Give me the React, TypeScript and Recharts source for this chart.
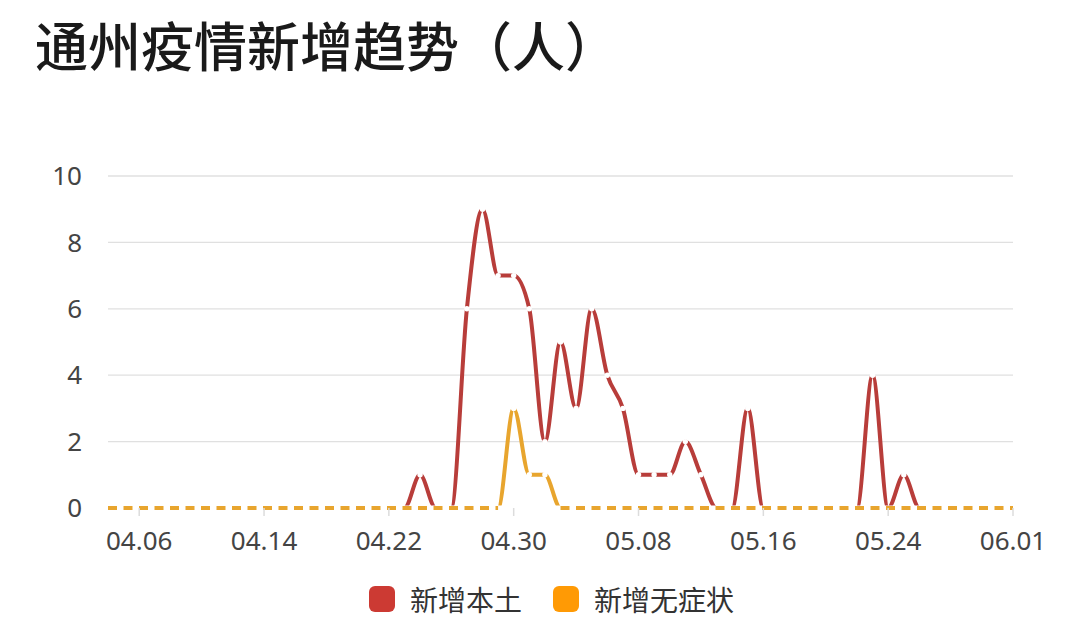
import { LineChart, Line, XAxis, YAxis, CartesianGrid } from "recharts";

// 日期（类目轴）
const dates = [
  "04.04", "04.05", "04.06", "04.07", "04.08", "04.09", "04.10", "04.11", "04.12", "04.13",
  "04.14", "04.15", "04.16", "04.17", "04.18", "04.19", "04.20", "04.21", "04.22", "04.23",
  "04.24", "04.25", "04.26", "04.27", "04.28", "04.29", "04.30", "05.01", "05.02", "05.03",
  "05.04", "05.05", "05.06", "05.07", "05.08", "05.09", "05.10", "05.11", "05.12", "05.13",
  "05.14", "05.15", "05.16", "05.17", "05.18", "05.19", "05.20", "05.21", "05.22", "05.23",
  "05.24", "05.25", "05.26", "05.27", "05.28", "05.29", "05.30", "05.31", "06.01",
];

// 新增本土
const localCases = [
  0, 0, 0, 0, 0, 0, 0, 0, 0, 0,
  0, 0, 0, 0, 0, 0, 0, 0, 0, 0,
  1, 0, 0, 6, 9, 7, 7, 6, 2, 5,
  3, 6, 4, 3, 1, 1, 1, 2, 1, 0,
  0, 3, 0, 0, 0, 0, 0, 0, 0, 4,
  0, 1, 0, 0, 0, 0, 0, 0, 0,
];

// 新增无症状
const asymptomatic = [
  0, 0, 0, 0, 0, 0, 0, 0, 0, 0,
  0, 0, 0, 0, 0, 0, 0, 0, 0, 0,
  0, 0, 0, 0, 0, 0, 3, 1, 1, 0,
  0, 0, 0, 0, 0, 0, 0, 0, 0, 0,
  0, 0, 0, 0, 0, 0, 0, 0, 0, 0,
  0, 0, 0, 0, 0, 0, 0, 0, 0,
];

const xTicks = ["04.06", "04.14", "04.22", "04.30", "05.08", "05.16", "05.24", "06.01"];
const yTicks = [0, 2, 4, 6, 8, 10];
const seriesNames = ["新增本土", "新增无症状"];

const RED_LINE = "#b83d3a";
const RED_ICON = "#cc3a33";
const ORANGE_LINE = "#e8a52e";
const ORANGE_ICON = "#ff9a05";

const FONT = '"Noto Sans", "Noto Sans CJK SC", sans-serif';
const CJK = '"Noto Sans CJK SC", "Noto Sans", sans-serif';

// zero-to-zero stretches of the asymptomatic series are drawn dashed
const isFlatZero = (arr: number[], i: number) =>
  arr[i] === 0 && (arr[i - 1] === 0 || arr[i + 1] === 0);

const data = dates.map((date, i) => ({
  date,
  local: localCases[i],
  asym: asymptomatic[i],
  asymZero: isFlatZero(asymptomatic, i) ? 0 : null,
}));

const gapDot = (key: string) => (props: any) => {
  const { cx, cy, index, payload } = props;
  if (!payload || !payload[key]) return <g key={`d-${key}-${index}`} />;
  return <circle key={`d-${key}-${index}`} cx={cx} cy={cy} r={2.7} fill="#fff" />;
};

const tickStyle = { fontSize: 26, fill: "#444", fontFamily: FONT };

export default function App() {
  const legendItems = [
    { name: seriesNames[0], color: RED_ICON },
    { name: seriesNames[1], color: ORANGE_ICON },
  ];

  return (
    <div
      style={{
        position: "absolute",
        left: 0,
        top: 0,
        width: 1080,
        height: 620,
        background: "#fff",
        overflow: "hidden",
      }}
    >
      <div
        style={{
          position: "absolute",
          left: 35,
          top: 12,
          fontSize: 53,
          lineHeight: "64px",
          fontWeight: 500,
          color: "#1a1a1a",
          fontFamily: CJK,
          whiteSpace: "nowrap",
        }}
      >
        通州疫情新增趋势（人）
      </div>

      <LineChart
        width={1080}
        height={620}
        data={data}
        margin={{ top: 176, right: 67, bottom: 82, left: 0 }}
      >
        <CartesianGrid vertical={false} stroke="#e0e0e0" strokeWidth={1.3} />
        <XAxis
          dataKey="date"
          ticks={xTicks}
          interval={0}
          axisLine={false}
          tickLine={{ stroke: "#dcdcdc", strokeWidth: 1.5 }}
          tickSize={8}
          tickMargin={16}
          tick={tickStyle}
          height={30}
        />
        <YAxis
          domain={[0, 10]}
          ticks={yTicks}
          width={108}
          axisLine={false}
          tickLine={false}
          tickMargin={20}
          tick={tickStyle}
        />
        <Line
          type="monotone"
          dataKey="local"
          name={seriesNames[0]}
          stroke={RED_LINE}
          strokeWidth={4}
          dot={gapDot("local")}
          activeDot={false}
          isAnimationActive={false}
        />
        <Line
          type="monotone"
          dataKey="asym"
          name={seriesNames[1]}
          stroke={ORANGE_LINE}
          strokeWidth={4}
          dot={gapDot("asym")}
          activeDot={false}
          isAnimationActive={false}
        />
        {/* white mask over the baseline, so the dashes show through */}
        <Line
          type="linear"
          dataKey={() => 0}
          stroke="#fff"
          strokeWidth={5}
          dot={false}
          activeDot={false}
          isAnimationActive={false}
        />
        <Line
          type="linear"
          dataKey="asymZero"
          stroke={ORANGE_LINE}
          strokeWidth={4}
          strokeDasharray="9 6.5"
          dot={false}
          activeDot={false}
          isAnimationActive={false}
        />
      </LineChart>

      <div
        style={{
          position: "absolute",
          left: 369,
          top: 585,
          display: "flex",
          alignItems: "center",
          fontFamily: CJK,
          fontSize: 28,
          color: "#333",
          lineHeight: "28px",
        }}
      >
        {legendItems.map((item, i) => (
          <div
            key={item.name}
            style={{ display: "flex", alignItems: "center", marginLeft: i ? 31 : 0 }}
          >
            <span
              style={{
                width: 26,
                height: 26,
                borderRadius: 6,
                background: item.color,
                display: "inline-block",
                marginRight: 15,
              }}
            />
            <span>{item.name}</span>
          </div>
        ))}
      </div>
    </div>
  );
}
